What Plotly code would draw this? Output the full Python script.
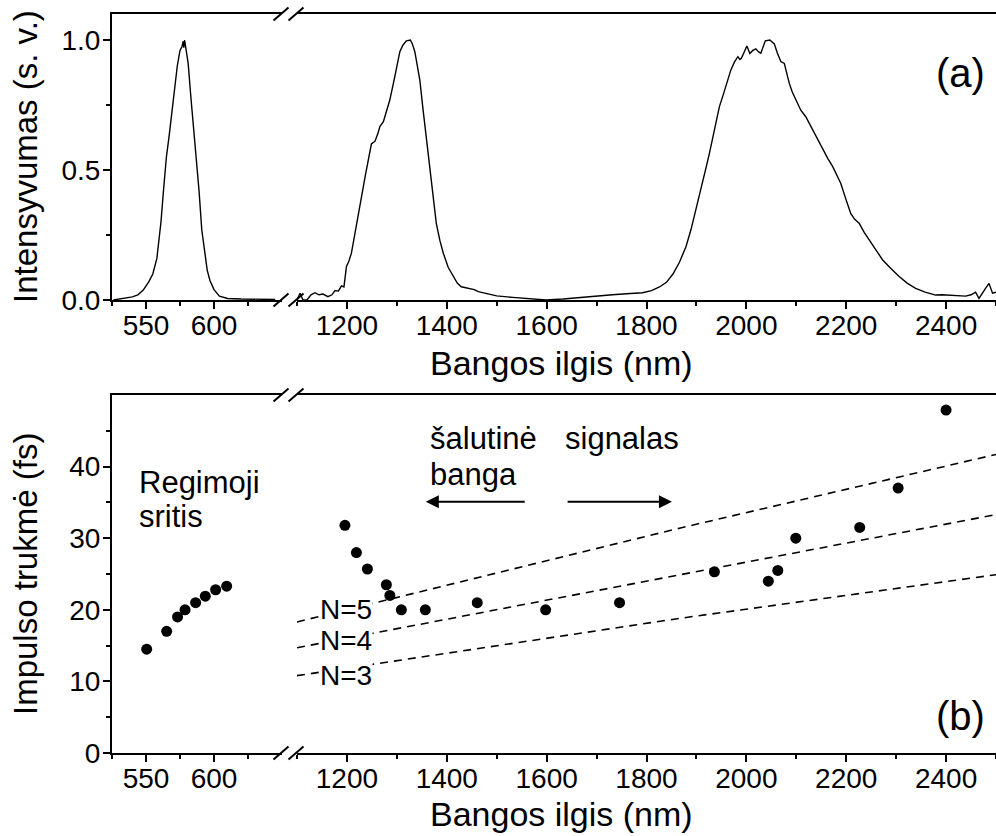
import plotly.graph_objects as go

# ---------------- data ----------------
# (a) spectra: visible segment
vis_nm = [526, 530, 535, 540, 544, 548, 552, 555, 558, 561, 563, 565, 567, 569, 571, 573, 575,
          576.5, 577.3, 577.8, 578.4, 579.2, 581, 583, 585, 587, 589, 591, 593, 595, 597, 600,
          604, 610, 620, 630, 645]
vis_int = [0.0, 0.003, 0.006, 0.012, 0.02, 0.038, 0.07, 0.10, 0.16, 0.30, 0.43, 0.55, 0.63, 0.72,
           0.81, 0.90, 0.96, 0.975, 0.995, 0.97, 1.0, 0.975, 0.91, 0.78, 0.67, 0.53, 0.42, 0.27,
           0.19, 0.115, 0.075, 0.04, 0.015, 0.006, 0.004, 0.003, 0.002]

# (a) spectra: infrared segment (idler + signal)
ir_nm = [1100, 1106, 1112, 1120, 1128, 1136, 1144, 1152, 1162, 1170, 1176, 1183, 1189, 1194, 1199,
         1204, 1209, 1217, 1226, 1237, 1249, 1256, 1262, 1266, 1273, 1280, 1286, 1296, 1306, 1312,
         1319, 1327, 1331, 1336, 1341, 1346, 1352, 1359, 1364, 1369, 1374, 1379, 1386, 1393, 1403,
         1413, 1421, 1429, 1437, 1446, 1455, 1463, 1475, 1486, 1500, 1532, 1566, 1599, 1633, 1666,
         1700, 1732, 1760, 1792, 1810, 1826, 1840, 1853, 1866, 1879, 1889, 1899, 1906, 1913, 1920,
         1926, 1936, 1946, 1953, 1959, 1964, 1969, 1976, 1983, 1987, 1990, 1996, 2001, 2007, 2013,
         2019, 2024, 2029, 2034, 2038, 2047, 2056, 2062, 2069, 2076, 2081, 2086, 2092, 2099, 2109,
         2119, 2127, 2136, 2145, 2153, 2163, 2173, 2181, 2189, 2199, 2209, 2217, 2226, 2236, 2246,
         2260, 2273, 2290, 2306, 2322, 2339, 2358, 2379, 2392, 2406, 2420, 2439, 2450, 2459, 2466,
         2473, 2479, 2486, 2493, 2500]
ir_int = [0.0, 0.026, 0.0, 0.0, 0.02, 0.028, 0.02, 0.023, 0.013, 0.02, 0.036, 0.035, 0.054, 0.05,
          0.128, 0.15, 0.18, 0.27, 0.36, 0.48, 0.60, 0.61, 0.64, 0.667, 0.686, 0.73, 0.77, 0.86,
          0.955, 0.98, 0.997, 1.0, 0.985, 0.955, 0.90, 0.846, 0.74, 0.628, 0.54, 0.46, 0.375, 0.295,
          0.23, 0.18, 0.125, 0.09, 0.065, 0.051, 0.047, 0.045, 0.04, 0.032, 0.027, 0.022, 0.016,
          0.01, 0.004, 0.0, 0.004, 0.01, 0.015, 0.02, 0.024, 0.028, 0.036, 0.05, 0.068, 0.10, 0.145,
          0.205, 0.27, 0.346, 0.40, 0.46, 0.515, 0.564, 0.654, 0.744, 0.785, 0.82, 0.855, 0.885,
          0.915, 0.936, 0.925, 0.93, 0.955, 0.977, 0.948, 0.96, 0.966, 0.955, 0.949, 0.975, 0.997,
          1.0, 0.985, 0.95, 0.917, 0.91, 0.87, 0.833, 0.80, 0.77, 0.73, 0.705, 0.675, 0.64, 0.61,
          0.577, 0.545, 0.513, 0.48, 0.449, 0.39, 0.333, 0.31, 0.295, 0.26, 0.23, 0.19, 0.154, 0.12,
          0.09, 0.065, 0.045, 0.03, 0.019, 0.02, 0.019, 0.017, 0.015, 0.02, 0.03, 0.006, 0.03,
          0.045, 0.064, 0.026, 0.03]

# (b) pulse durations
vis_pts_nm = [550.5, 565.2, 573.2, 578.7, 586.5, 593.6, 601.2, 609.3]
vis_dur_fs = [14.5, 17.0, 19.0, 20.0, 21.0, 21.9, 22.8, 23.3]
ir_pts_nm = [1196, 1219, 1241, 1279, 1286, 1309, 1357, 1461, 1598, 1746, 1936, 2044, 2063, 2099,
             2227, 2304, 2400]
ir_dur_fs = [31.8, 28.0, 25.7, 23.5, 22.0, 20.0, 20.0, 21.0, 20.0, 21.0, 25.3, 24.0, 25.5, 30.0,
             31.5, 37.0, 47.9]

# (b) dashed N-cycle limits
n_line_nm = [1100, 1866, 2500]
n5_fs = [18.3, 31.4, 41.7]
n4_fs = [14.7, 24.9, 33.3]
n3_fs = [10.8, 18.8, 24.9]

vis_ticks = [550, 600]
vis_minor = [525, 575, 625]
ir_ticks = [1200, 1400, 1600, 1800, 2000, 2200, 2400]
top_yticks = [0, 0.5, 1.0]
top_yticklabels = ["0.0", "0.5", "1.0"]
bot_yticks = [0, 10, 20, 30, 40]

# ---------------- layout helpers ----------------
W, H = 996, 836
L, R, T, B = 112, 0, 14, 83
PW = W - L - R
PH = H - T - B
FONT = "Liberation Sans, Arial, Helvetica, sans-serif"


def px(x):
    return (x - L) / PW


def py(y):
    return (H - B - y) / PH


fig = go.Figure()
line_style = dict(color="black", width=1.4)
fig.add_trace(go.Scatter(x=vis_nm, y=vis_int, xaxis="x", yaxis="y", mode="lines", line=line_style))
fig.add_trace(go.Scatter(x=ir_nm, y=ir_int, xaxis="x2", yaxis="y", mode="lines", line=line_style))
for ys in (n5_fs, n4_fs, n3_fs):
    fig.add_trace(go.Scatter(x=n_line_nm, y=ys, xaxis="x4", yaxis="y2", mode="lines",
                             line=dict(color="black", width=1.6, dash="8px,6px")))
mk = dict(size=11, color="black")
fig.add_trace(go.Scatter(x=vis_pts_nm, y=vis_dur_fs, xaxis="x3", yaxis="y2", mode="markers", marker=mk))
fig.add_trace(go.Scatter(x=ir_pts_nm, y=ir_dur_fs, xaxis="x4", yaxis="y2", mode="markers", marker=mk))

axc = dict(showgrid=False, zeroline=False, showline=True, linecolor="black", linewidth=2,
           ticks="outside", ticklen=7, tickwidth=2, tickcolor="black",
           tickfont=dict(size=28, color="black", family=FONT))
minor_len = 4

xl_dom = [0, px(282)]
xr_dom = [px(297), 1]
ytop_dom = [py(300), 1]
ybot_dom = [0, py(395)]
XSO = -8
YSO = -3

fig.update_layout(
    width=W, height=H, margin=dict(l=L, r=R, t=T, b=B, pad=0),
    paper_bgcolor="white", plot_bgcolor="white", showlegend=False,
    font=dict(family=FONT, color="black"),
    xaxis=dict(axc, domain=xl_dom, range=[525, 650], anchor="y", tickmode="array",
               tickvals=vis_ticks, mirror=True, ticklabelstandoff=XSO,
               minor=dict(tickmode="array", tickvals=vis_minor, ticks="outside", ticklen=minor_len,
                          tickwidth=2, tickcolor="black")),
    xaxis2=dict(axc, domain=xr_dom, range=[1100, 2500], anchor="y", tickmode="array",
                tickvals=ir_ticks, mirror=True, ticklabelstandoff=XSO,
                minor=dict(dtick=100, tick0=1100, ticks="outside", ticklen=minor_len, tickwidth=2,
                           tickcolor="black")),
    yaxis=dict(axc, domain=ytop_dom, range=[0, 1.1], anchor="x", tickmode="array",
               tickvals=top_yticks, ticktext=top_yticklabels, ticklabelstandoff=YSO,
               minor=dict(tickmode="array", tickvals=[0.25, 0.75], ticks="outside",
                          ticklen=minor_len, tickwidth=2, tickcolor="black")),
    xaxis3=dict(axc, domain=xl_dom, range=[525, 650], anchor="y2", tickmode="array",
                tickvals=vis_ticks, mirror=True, ticklabelstandoff=XSO,
                minor=dict(tickmode="array", tickvals=vis_minor, ticks="outside", ticklen=minor_len,
                           tickwidth=2, tickcolor="black")),
    xaxis4=dict(axc, domain=xr_dom, range=[1100, 2500], anchor="y2", tickmode="array",
                tickvals=ir_ticks, mirror=True, ticklabelstandoff=XSO,
                minor=dict(dtick=100, tick0=1100, ticks="outside", ticklen=minor_len, tickwidth=2,
                           tickcolor="black")),
    yaxis2=dict(axc, domain=ybot_dom, range=[0, 50], anchor="x3", tickmode="array",
                tickvals=bot_yticks, ticklabelstandoff=YSO,
                minor=dict(tickmode="array", tickvals=[5, 15, 25, 35, 45], ticks="outside",
                           ticklen=minor_len, tickwidth=2, tickcolor="black")),
)

# axis-break marks
shapes = []
for yy in (300, 14, 753, 395):
    for cx in (281, 296):
        shapes.append(dict(type="line", xref="paper", yref="paper",
                           x0=px(cx - 7.5), y0=py(yy + 6.5), x1=px(cx + 7.5), y1=py(yy - 6.5),
                           line=dict(color="black", width=2)))
fig.update_layout(shapes=shapes)

ann = []


def text(t, x, y, size, xanchor="left", angle=0):
    ann.append(dict(text=t, x=px(x), y=py(y), xref="paper", yref="paper", showarrow=False,
                    xanchor=xanchor, yanchor="middle", textangle=angle,
                    font=dict(size=size, color="black", family=FONT)))


# axis titles
text("Bangos ilgis (nm)", 561, 363, 34, "center")
text("Bangos ilgis (nm)", 561, 814, 34, "center")
text("Intensyvumas (s. v.)", 25, 157, 33, "center", -90)
text("Impulso trukmė (fs)", 25, 574, 33, "center", -90)
# panel labels
text("(a)", 960, 73, 40, "center")
text("(b)", 960, 716, 40, "center")
# inner labels
text("Regimoji", 137, 482, 31)
text("sritis", 137, 516, 31)
text("šalutinė", 428, 439, 31)
text("banga", 428, 474, 31)
text("signalas", 563, 439, 31)
for lbl, yy in (("N=5", 609), ("N=4", 640), ("N=3", 675)):
    ann.append(dict(text=lbl, x=px(346), y=py(yy), xref="paper", yref="paper", showarrow=False,
                    xanchor="center", yanchor="middle", bgcolor="white", borderpad=0,
                    font=dict(size=28, color="black", family=FONT)))

# arrows
for tail, tip in ((1559, 1358), (1639, 1851)):
    ann.append(dict(x=tip, y=35.1, ax=tail, ay=35.1, xref="x4", yref="y2", axref="x4", ayref="y2",
                    text="", showarrow=True, arrowhead=2, arrowsize=1.3, arrowwidth=2,
                    arrowcolor="black", standoff=0))
fig.update_layout(annotations=ann)

fig.write_html("out.html")
